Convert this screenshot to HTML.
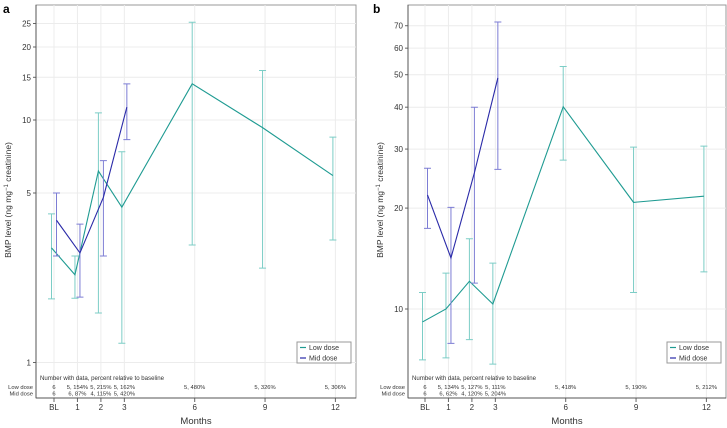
<!DOCTYPE html>
<html><head><meta charset="utf-8"><style>
html,body{margin:0;padding:0;background:#fff;}
svg{display:block;font-family:"Liberation Sans",sans-serif;}
</style></head><body>
<svg id="chart" width="727" height="428" viewBox="0 0 727 428"></svg>
<script>
const months=[0,1,2,3,6,9,12];
const monthLabels=["BL","1","2","3","6","9","12"];
// Panel a
const aLowMean=[2.97,2.3,6.16,4.37,14.1,9.3,5.9];
const aLowHi=[4.1,2.75,10.7,7.4,25.3,16,8.5];
const aLowLo=[1.83,1.84,1.6,1.2,3.05,2.45,3.2];
const aMidMean=[3.86,2.83,4.8,11.3];
const aMidHi=[5.0,3.72,6.8,14.1];
const aMidLo=[2.75,1.86,2.75,8.3];
const aTicks=[1,5,10,15,20,25];
const aLowText=["6","5, 154%","5, 215%","5, 162%","5, 480%","5, 326%","5, 306%"];
const aMidText=["6","6, 87%","4, 115%","5, 420%"];
// Panel b
const bLowMean=[9.15,10.0,12.1,10.35,40.1,20.8,21.7];
const bLowHi=[11.2,12.8,16.2,13.7,52.9,30.4,30.6];
const bLowLo=[7.05,7.15,8.1,6.85,27.8,11.2,12.9];
const bMidMean=[21.9,14.2,25.5,48.9];
const bMidHi=[26.3,20.1,40,71.8];
const bMidLo=[17.4,7.9,11.95,26.1];
const bTicks=[10,20,30,40,50,60,70];
const bLowText=["6","5, 134%","5, 127%","5, 111%","5, 418%","5, 190%","5, 212%"];
const bMidText=["6","6, 62%","4, 120%","5, 204%"];

const NS="http://www.w3.org/2000/svg";
const svg=document.getElementById('chart');
function mk(tag,attrs,parent,text){const e=document.createElementNS(NS,tag);for(const k in attrs)e.setAttribute(k,attrs[k]);if(text!==undefined)e.textContent=text;(parent||svg).appendChild(e);return e;}
const LOW="#1f9b92",LOWE="#7ccdc6",MID="#2a2aa8",MIDE="#7d7dd4";

function panel(p){
  const g=mk('g',{});
  
  
  const xs=m=>p.x0+p.dx*m;
  const ys=v=>p.yRef-p.pxDec*Math.log10(v/p.vRef);
  const fr=mk('rect',{x:p.left,y:5,width:p.right-p.left,height:393,fill:'none',stroke:'#999','stroke-width':1},g);
  
  
  p.ticks.forEach(t=>{
    const y=ys(t);
    const l=mk('line',{x1:p.left,x2:p.right,y1:y,y2:y,stroke:'#ececec','stroke-width':1},g);
    
    
    mk('line',{x1:p.left-3,x2:p.left,y1:y,y2:y,stroke:'#666'},g);
    const tx=mk('text',{x:p.left-5,y:y+3,'font-size':8,'text-anchor':'end',fill:'#333'},g,String(t));
    
    
  });
  months.forEach((m,i)=>{
    const x=xs(m);
    const l=mk('line',{x1:x,x2:x,y1:5,y2:398,stroke:'#ececec','stroke-width':1},g);
    
    
    mk('line',{x1:x,x2:x,y1:398,y2:402,stroke:'#666'},g);
    const tx=mk('text',{x:x,y:410,'font-size':8,'text-anchor':'middle',fill:'#333'},g,monthLabels[i]);
    
    
  });
  mk('line',{x1:p.left,x2:p.left,y1:5,y2:398,stroke:'#555'},g);
  mk('line',{x1:p.left,x2:p.right,y1:398,y2:398,stroke:'#555'},g);
  function series(mean,hi,lo,off,col,ecol,name){
    const sg=mk('g',{},g);
    
    
    mean.forEach((v,i)=>{
      const x=xs(months[i])+off;
      const e=mk('path',{d:`M${x},${ys(hi[i])}V${ys(lo[i])}M${x-3.5},${ys(hi[i])}H${x+3.5}M${x-3.5},${ys(lo[i])}H${x+3.5}`,stroke:ecol,fill:'none','stroke-width':1},sg);
      
      
    });
    const pts=mean.map((v,i)=>(xs(months[i])+off)+','+ys(v)).join(' ');
    const pl=mk('polyline',{points:pts,fill:'none',stroke:col,'stroke-width':1.1},sg);
    
    
  }
  series(p.lowMean,p.lowHi,p.lowLo,-2.5,LOW,LOWE,'low-dose');
  series(p.midMean,p.midHi,p.midLo,2.5,MID,MIDE,'mid-dose');
  const fs=5.8;
  const t1=mk('text',{x:p.left+4,y:380,'font-size':fs+0.3,fill:'#333'},g,'Number with data, percent relative to baseline');
  
  
  const r1=mk('text',{x:p.left-3,y:389,'font-size':fs,'text-anchor':'end',fill:'#333'},g,'Low dose');
  
  
  const r2=mk('text',{x:p.left-3,y:395.5,'font-size':fs,'text-anchor':'end',fill:'#333'},g,'Mid dose');
  
  
  p.lowText.forEach((s,i)=>{const t=mk('text',{x:xs(months[i]),y:389,'font-size':fs,'text-anchor':'middle',fill:'#333'},g,s);
    
    });
  p.midText.forEach((s,i)=>{const t=mk('text',{x:xs(months[i]),y:395.5,'font-size':fs,'text-anchor':'middle',fill:'#333'},g,s);
    
    });
  const xt=mk('text',{x:(p.left+p.right)/2,y:424,'font-size':9.5,'text-anchor':'middle',fill:'#333'},g,'Months');
  
  
  const yt=mk('text',{x:0,y:0,'font-size':8.5,'text-anchor':'middle',fill:'#333',transform:`translate(${p.left-25},200) rotate(-90)`},g);
  
  
  yt.innerHTML='BMP level (ng mg<tspan dy="-3" font-size="6">−1</tspan><tspan dy="3"> creatinine)</tspan>';
  const lg=mk('g',{},g);
  
  
  mk('rect',{x:p.right-59,y:342,width:54,height:21,fill:'#fff',stroke:'#999'},lg);
  mk('line',{x1:p.right-56,x2:p.right-50,y1:347.5,y2:347.5,stroke:LOW,'stroke-width':1.2},lg);
  mk('line',{x1:p.right-56,x2:p.right-50,y1:358,y2:358,stroke:MID,'stroke-width':1.2},lg);
  const le1=mk('text',{x:p.right-47,y:350,'font-size':7,fill:'#333'},lg,'Low dose');
  
  
  const le2=mk('text',{x:p.right-47,y:360.5,'font-size':7,fill:'#333'},lg,'Mid dose');
  
  
  const pl=mk('text',{x:p.letterX,y:13,'font-size':12,'font-weight':'bold',fill:'#000'},g,p.id);
  
  
}
panel({id:'a',left:36,right:356,x0:54,dx:23.45,yRef:120,vRef:10,pxDec:242.5,ticks:aTicks,
  lowMean:aLowMean,lowHi:aLowHi,lowLo:aLowLo,midMean:aMidMean,midHi:aMidHi,midLo:aMidLo,lowText:aLowText,midText:aMidText,letterX:3});
panel({id:'b',left:408,right:726,x0:425,dx:23.45,yRef:309,vRef:10,pxDec:335.2,ticks:bTicks,
  lowMean:bLowMean,lowHi:bLowHi,lowLo:bLowLo,midMean:bMidMean,midHi:bMidHi,midLo:bMidLo,lowText:bLowText,midText:bMidText,letterX:373});
</script>
</body></html>
